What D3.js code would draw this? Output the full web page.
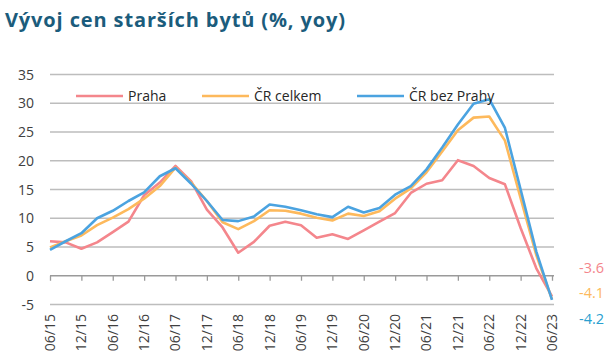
<!DOCTYPE html>
<html><head><meta charset="utf-8">
<script src="https://cdn.jsdelivr.net/npm/d3@7"></script>
<style>
html,body{margin:0;padding:0;background:#fff;}
svg{display:block;font-family:"Open Sans",sans-serif;}
</style></head>
<body>
<svg id="c" width="608" height="363"></svg>
<script>
const quarters = ["06/15","09/15","12/15","03/16","06/16","09/16","12/16","03/17","06/17","09/17","12/17","03/18","06/18","09/18","12/18","03/19","06/19","09/19","12/19","03/20","06/20","09/20","12/20","03/21","06/21","09/21","12/21","03/22","06/22","09/22","12/22","03/23","06/23"];
const tickLabels = ["06/15","12/15","06/16","12/16","06/17","12/17","06/18","12/18","06/19","12/19","06/20","12/20","06/21","12/21","06/22","12/22","06/23"];
const praha = [6.0,5.8,4.7,5.8,7.6,9.4,14.0,16.2,19.1,16.4,11.5,8.4,4.0,5.9,8.7,9.4,8.8,6.6,7.2,6.4,7.9,9.4,10.9,14.4,16.0,16.6,20.1,19.1,17.0,15.9,8.3,1.3,-3.6];
const crCelkem = [4.9,6.0,7.0,8.8,10.1,11.6,13.4,15.6,18.8,16.2,13.0,9.3,8.1,9.5,11.4,11.3,10.8,10.1,9.6,10.8,10.4,11.2,13.4,15.2,18.0,21.6,25.3,27.5,27.7,23.5,13.5,3.6,-4.1];
const crBezPrahy = [4.5,6.0,7.4,10.0,11.3,13.0,14.5,17.3,18.7,16.0,13.0,9.7,9.5,10.3,12.4,12.0,11.4,10.7,10.2,12.0,11.0,11.8,14.1,15.6,18.5,22.3,26.3,29.9,30.7,25.7,15.0,4.2,-4.2];
const yTicks = [-5,0,5,10,15,20,25,30,35];
const seriesNames = ["Praha","ČR celkem","ČR bez Prahy"];
const lastLabels = ["-3.6","-4.1","-4.2"];

const colors = ["#f4868c","#fdb95c","#4ba3e0"];
const labelColors = ["#f4868c","#fdb95c","#2a9fd0"];
const series = [praha, crCelkem, crBezPrahy];

const svg = d3.select("#c");
const x = d3.scalePoint().domain(quarters).range([50, 552]);
const y = d3.scaleLinear().domain([-5,35]).range([304.5, 74.5]);

// title
const title = svg.append("text").attr("x",5).attr("y",27)
  .attr("font-size",20).attr("font-weight","bold").attr("fill","#1b5c7c")
  .text("Vývoj cen starších bytů (%, yoy)");
const tl = title.node().getComputedTextLength();
const nChars = title.text().length;
title.attr("letter-spacing", ((340 - tl) / (nChars - 1)).toFixed(2));

// gridlines
svg.append("g").selectAll("line").data(yTicks.filter(d=>d!==0)).join("line")
  .attr("x1",50).attr("x2",554).attr("y1",d=>y(d)).attr("y2",d=>y(d))
  .attr("stroke","#bdbdbd").attr("stroke-width",1.3);

// y labels
svg.append("g").selectAll("text").data(yTicks).join("text")
  .attr("x",34).attr("y",d=>y(d)).attr("dy","0.36em").attr("text-anchor","end")
  .attr("font-size",14).attr("fill","#404040").text(d=>d);

// x axis at zero
const xAxis = d3.axisBottom(x).tickValues(tickLabels).tickSize(5).tickFormat("");
const gx = svg.append("g").attr("transform",`translate(0,${y(0)})`).call(xAxis);
gx.select(".domain").attr("stroke","#9a9a9a").attr("stroke-width",1.3).attr("d",`M50,0H554`);
gx.selectAll(".tick line").attr("stroke","#9a9a9a").attr("stroke-width",1.3);

// x labels rotated
svg.append("g").selectAll("text").data(tickLabels).join("text")
  .attr("transform",d=>`translate(${x(d)},314) rotate(-90)`)
  .attr("text-anchor","end").attr("dy","0.35em")
  .attr("font-size",14).attr("fill","#404040").text(d=>d);

// lines
const line = d3.line().x((d,i)=>x(quarters[i])).y(d=>y(d));
series.forEach((s,k)=>{
  svg.append("path").datum(s).attr("d",line).attr("fill","none")
    .attr("stroke",colors[k]).attr("stroke-width",2.6).attr("stroke-linejoin","round");
});

// legend
const legX = [76,202,357];
seriesNames.forEach((n,k)=>{
  svg.append("line").attr("x1",legX[k]).attr("x2",legX[k]+47).attr("y1",96).attr("y2",96)
    .attr("stroke",colors[k]).attr("stroke-width",2.6);
  svg.append("text").attr("x",legX[k]+52).attr("y",96).attr("dy","0.36em")
    .attr("font-size",14).attr("fill","#262626").text(n);
});

// end labels
const endY = [268,293,319];
lastLabels.forEach((t,k)=>{
  svg.append("text").attr("x",579).attr("y",endY[k]).attr("dy","0.36em")
    .attr("font-size",14.5).attr("fill",labelColors[k]).text(t);
});
</script>
</body></html>
